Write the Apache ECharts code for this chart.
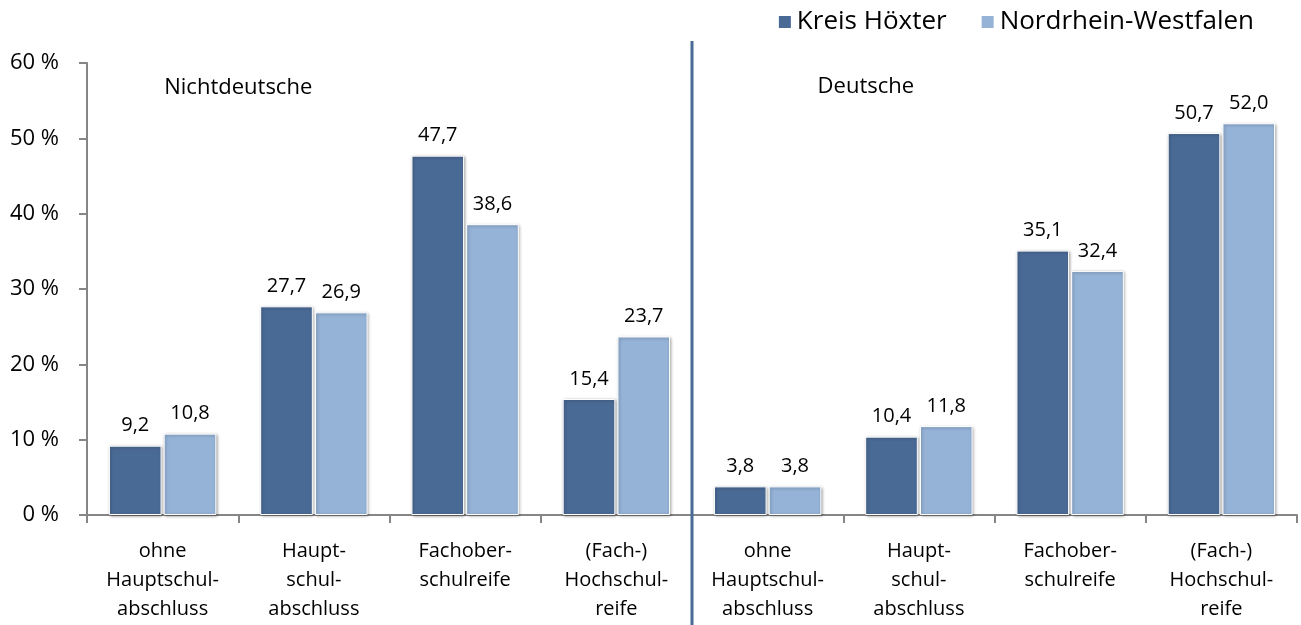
<!DOCTYPE html>
<html>
<head>
<meta charset="utf-8">
<script src="https://cdn.jsdelivr.net/npm/echarts@6/dist/echarts.min.js"></script>
<style>
  html, body { margin: 0; padding: 0; background: #fff; }
  #chart { width: 1301px; height: 625px; }
</style>
</head>
<body>
<div id="chart"></div>
<script>
// Kategorien (zwei Gruppen: Nichtdeutsche / Deutsche)
const categories = [
  'ohne\nHauptschul-\nabschluss', 'Haupt-\nschul-\nabschluss', 'Fachober-\nschulreife', '(Fach-)\nHochschul-\nreife',
  'ohne\nHauptschul-\nabschluss', 'Haupt-\nschul-\nabschluss', 'Fachober-\nschulreife', '(Fach-)\nHochschul-\nreife'
]
const kreisHoexter = [9.2, 27.7, 47.7, 15.4, 3.8, 10.4, 35.1, 50.7]
const nrw = [10.8, 26.9, 38.6, 23.7, 3.8, 11.8, 32.4, 52.0]
const groupTitles = ['Nichtdeutsche', 'Deutsche']

const FONT = '"Open Sans", "Noto Sans", sans-serif'
const DARK = '#4a6a96'
const LIGHT = '#95b3d7'

const chart = echarts.init(document.getElementById('chart'))

const barStyle = color => ({
  color: color,
  borderColor: '#fff',
  borderWidth: 1,
  shadowColor: 'rgba(0,0,0,0.35)',
  shadowBlur: 3,
  shadowOffsetX: 1,
  shadowOffsetY: 1
})

const labelStyle = {
  show: true,
  position: 'top',
  distance: 10,
  fontFamily: FONT,
  fontSize: 20,
  color: '#000',
  formatter: p => p.value.toFixed(1).replace('.', ',')
}

chart.setOption({
  animation: false,
  textStyle: { fontFamily: FONT },
  legend: {
    top: 4,
    right: 42,
    itemWidth: 14,
    itemHeight: 14,
    itemGap: 33,
    icon: 'rect',
    textStyle: { fontFamily: FONT, fontSize: 26, color: '#000' },
    data: ['Kreis Höxter', 'Nordrhein-Westfalen']
  },
  grid: { left: 87, right: 4, top: 63, bottom: 110 },
  xAxis: {
    type: 'category',
    data: categories,
    axisLine: { lineStyle: { color: '#868686', width: 2 } },
    axisTick: { show: true, length: 8, lineStyle: { color: '#868686', width: 2 } },
    axisLabel: {
      interval: 0,
      margin: 22,
      fontFamily: FONT,
      fontSize: 20,
      lineHeight: 29,
      color: '#000'
    }
  },
  yAxis: {
    type: 'value',
    min: 0,
    max: 60,
    interval: 10,
    splitLine: { show: false },
    axisLine: { show: true, lineStyle: { color: '#868686', width: 2 } },
    axisTick: { show: true, length: 8, lineStyle: { color: '#868686', width: 2 } },
    axisLabel: {
      margin: 28,
      fontFamily: FONT,
      fontSize: 22,
      color: '#000',
      formatter: v => v + ' %'
    }
  },
  series: [
    {
      name: 'Kreis Höxter',
      type: 'bar',
      data: kreisHoexter,
      barGap: '4%',
      barCategoryGap: '29%',
      itemStyle: barStyle(DARK),
      label: labelStyle
    },
    {
      name: 'Nordrhein-Westfalen',
      type: 'bar',
      data: nrw,
      itemStyle: barStyle(LIGHT),
      label: labelStyle
    }
  ]
})

// Trennlinie und Gruppentitel aus den Achsenpositionen ableiten
const px = i => chart.convertToPixel({ xAxisIndex: 0 }, i)
const xDiv = (px(3) + px(4)) / 2

chart.setOption({
  graphic: [
    {
      type: 'line',
      shape: { x1: xDiv, y1: 41, x2: xDiv, y2: 625 },
      style: { stroke: DARK, lineWidth: 3 },
      z: 10
    },
    {
      type: 'text',
      x: (px(0) + px(1)) / 2,
      y: 88,
      style: { text: groupTitles[0], font: '22px ' + FONT, fill: '#000', textAlign: 'center', textVerticalAlign: 'middle' }
    },
    {
      type: 'text',
      x: px(5) - 53,
      y: 87,
      style: { text: groupTitles[1], font: '22px ' + FONT, fill: '#000', textAlign: 'center', textVerticalAlign: 'middle' }
    }
  ]
})
</script>
</body>
</html>
